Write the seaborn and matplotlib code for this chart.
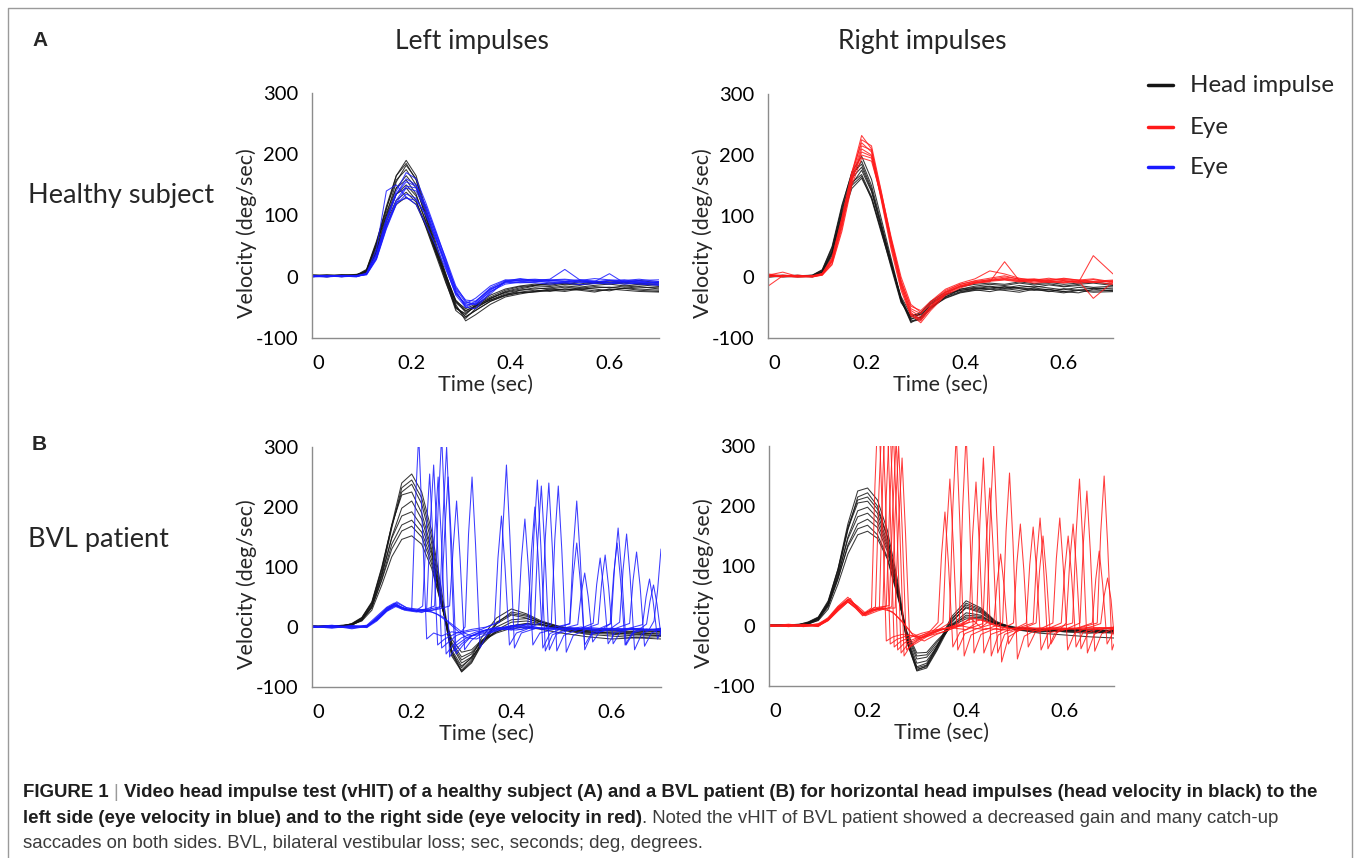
import numpy as np
import pandas as pd
import matplotlib
matplotlib.use("Agg")
import matplotlib.pyplot as plt
import seaborn as sns
from matplotlib.lines import Line2D
from matplotlib.transforms import ScaledTranslation
from matplotlib import font_manager

# ------------------------------------------------------------------ data
# healthy subject: common time grid (s)
T_A = [0.00, 0.03, 0.06, 0.09, 0.11, 0.13, 0.15, 0.17, 0.19, 0.21, 0.23, 0.25, 0.27, 0.29,
       0.31, 0.33, 0.36, 0.39, 0.42, 0.45, 0.48, 0.51, 0.54, 0.57, 0.60, 0.63, 0.66, 0.70]

# healthy, left impulses: head velocity (black)
TL_HEAD = [
    [2, 1, 3, 2, 10, 52, 110, 165, 190, 165, 110, 55, 5, -45, -72, -62, -45, -33, -28, -24, -22, -20, -21, -18, -17, -19, -16, -20],
    [1, 3, 2, 4, 8, 45, 100, 155, 182, 160, 105, 50, 0, -50, -65, -55, -40, -30, -22, -20, -18, -15, -17, -14, -12, -15, -13, -16],
    [3, 2, 0, 3, 12, 58, 112, 158, 175, 150, 95, 42, -5, -52, -60, -48, -35, -25, -20, -15, -16, -12, -14, -10, -12, -10, -13, -12],
    [0, 2, 3, 1, 6, 40, 95, 145, 165, 145, 98, 48, 2, -40, -58, -50, -38, -28, -25, -22, -24, -20, -22, -25, -20, -22, -24, -25],
    [2, 0, 2, 3, 9, 50, 105, 145, 158, 135, 88, 40, -8, -55, -68, -52, -36, -24, -18, -14, -12, -10, -12, -8, -10, -9, -11, -10],
    [1, 2, 1, 2, 7, 42, 92, 135, 150, 132, 90, 45, 3, -38, -55, -48, -38, -30, -26, -24, -20, -22, -18, -20, -23, -18, -20, -22],
    [3, 1, 3, 2, 11, 55, 100, 135, 145, 125, 80, 35, -10, -50, -62, -46, -30, -20, -15, -12, -14, -10, -13, -11, -9, -12, -10, -14],
    [0, 2, 2, 3, 8, 45, 90, 125, 138, 122, 85, 40, 0, -42, -56, -47, -35, -26, -22, -18, -20, -17, -19, -16, -18, -15, -17, -18],
    [2, 3, 1, 2, 6, 38, 85, 118, 130, 118, 82, 38, -2, -40, -52, -45, -33, -22, -16, -14, -10, -12, -8, -10, -7, -9, -6, -10],
    [1, 0, 2, 1, 10, 55, 115, 165, 185, 158, 100, 45, -3, -48, -66, -55, -40, -31, -26, -25, -22, -24, -20, -23, -21, -19, -22, -24],
]
# healthy, left impulses: eye velocity (blue)
TL_EYE = [
    [0, 2, 1, 0, 5, 35, 90, 135, 160, 150, 115, 70, 25, -20, -42, -45, -22, -8, -6, -5, -8, -10, -7, -9, -6, -8, -10, -9],
    [2, 0, 1, 2, 4, 30, 80, 120, 145, 140, 108, 65, 20, -25, -48, -40, -18, -6, -4, -8, -6, -5, -9, -7, -10, -8, -7, -12],
    [1, 1, 0, 1, 6, 45, 140, 150, 130, 118, 85, 50, 12, -28, -44, -35, -15, -5, -7, -6, -4, 12, -5, -8, -6, -5, -9, -8],
    [0, 1, 2, 1, 3, 28, 78, 118, 135, 128, 100, 62, 22, -18, -38, -40, -20, -10, -8, -7, -10, -8, -6, -10, -12, -9, -8, -10],
    [1, 2, 0, 2, 5, 38, 95, 140, 170, 160, 120, 75, 28, -22, -50, -52, -25, -9, -5, -4, -6, -8, -5, -7, -9, -6, -4, -8],
    [0, 0, 1, 1, 4, 32, 85, 122, 128, 125, 102, 60, 15, -30, -50, -42, -20, -8, -10, -9, -6, -7, -10, -8, 5, -10, -12, -14],
    [2, 1, 1, 0, 5, 36, 92, 135, 155, 148, 110, 66, 18, -26, -46, -44, -24, -12, -9, -10, -12, -10, -13, -11, -9, -12, -10, -13],
    [1, 0, 2, 1, 4, 30, 82, 125, 148, 145, 115, 72, 30, -15, -40, -46, -28, -7, -3, -6, -5, -4, -6, -3, -5, -7, -6, -5],
]
# healthy, right impulses: head velocity (black)
TR_HEAD = [
    [2, 3, 1, 2, 10, 45, 115, 172, 198, 160, 95, 30, -35, -72, -68, -50, -32, -24, -20, -18, -16, -19, -22, -20, -24, -21, -23, -22],
    [1, 2, 3, 1, 8, 40, 108, 165, 190, 150, 88, 25, -38, -75, -65, -45, -30, -20, -15, -12, -14, -10, -13, -11, -15, -12, -10, -14],
    [0, 1, 2, 3, 12, 50, 118, 170, 185, 145, 82, 20, -40, -70, -60, -42, -28, -22, -18, -20, -16, -18, -20, -24, -19, -22, -18, -20],
    [3, 0, 1, 2, 7, 38, 100, 152, 175, 140, 80, 22, -35, -68, -66, -50, -35, -26, -22, -20, -22, -25, -20, -23, -26, -22, -25, -24],
    [1, 2, 0, 1, 9, 42, 105, 155, 168, 132, 75, 15, -42, -65, -58, -40, -25, -16, -12, -10, -12, -8, -11, -9, -12, -10, -8, -12],
    [2, 1, 2, 0, 6, 35, 95, 145, 162, 130, 76, 20, -32, -62, -62, -48, -34, -25, -21, -24, -19, -22, -18, -21, -24, -26, -20, -23],
    [0, 2, 1, 3, 11, 48, 112, 162, 180, 142, 84, 24, -36, -73, -70, -52, -33, -20, -17, -15, -18, -14, -17, -13, -16, -14, -17, -15],
    [1, 1, 2, 2, 8, 40, 102, 150, 165, 128, 72, 18, -38, -66, -60, -44, -29, -22, -19, -16, -20, -17, -15, -18, -21, -17, -19, -18],
]
# healthy, right impulses: eye velocity (red)
TR_EYE = [
    [5, 2, 0, 1, 4, 25, 85, 165, 225, 215, 140, 60, -10, -58, -72, -50, -28, -15, -8, -4, 0, -3, -5, -2, -6, -8, -4, -10],
    [3, 8, 1, 2, 5, 30, 95, 170, 232, 210, 130, 55, -15, -62, -75, -55, -30, -18, -10, -6, -2, -5, -8, -6, -4, -7, -9, -6],
    [-15, 2, 1, 0, 3, 22, 80, 155, 210, 200, 135, 62, -5, -52, -60, -42, -22, -12, -6, -2, 2, -4, -3, -6, -2, -5, -3, -8],
    [2, 0, 3, 1, 5, 28, 90, 160, 200, 195, 128, 50, -18, -60, -68, -48, -25, -14, -9, -6, -4, -7, -5, -8, -9, -6, -8, -7],
    [0, 3, 2, 1, 3, 20, 75, 150, 195, 190, 132, 58, -8, -48, -55, -40, -20, -10, -3, 10, 5, -2, -6, -4, -3, -5, -7, -5],
    [1, 2, 1, 2, 6, 32, 98, 172, 220, 205, 125, 45, -22, -64, -70, -52, -28, -16, -10, -8, 25, -6, -10, -8, -6, -9, 35, 5],
    [4, 1, 2, 0, 4, 26, 88, 162, 215, 208, 138, 65, 0, -45, -58, -45, -24, -12, -7, -5, -3, -6, -4, -7, -10, -6, -35, -8],
    [2, 1, 0, 1, 5, 27, 86, 158, 205, 198, 130, 55, -12, -55, -65, -48, -26, -15, -10, -7, -5, -8, -6, -9, -7, -10, -8, -12],
]

# BVL patient: head-velocity time grid (s)
T_B = [0.00, 0.03, 0.06, 0.08, 0.10, 0.12, 0.14, 0.16, 0.18, 0.20, 0.22, 0.24, 0.26,
       0.28, 0.30, 0.32, 0.34, 0.37, 0.40, 0.43, 0.46, 0.50, 0.55, 0.60, 0.65, 0.70]

BL_HEAD = [
    [0, 1, 2, 5, 15, 40, 95, 170, 240, 255, 225, 160, 60, -40, -75, -60, -30, 5, 20, 15, 5, -5, -10, -8, -10, -12],
    [1, 0, 3, 4, 13, 36, 90, 165, 232, 245, 215, 150, 50, -45, -72, -55, -25, 8, 22, 18, 8, 0, -6, -5, -8, -6],
    [0, 2, 1, 6, 16, 42, 100, 170, 220, 225, 190, 130, 40, -42, -68, -50, -18, 15, 30, 22, 10, 0, -5, -3, -5, -8],
    [2, 1, 0, 3, 12, 34, 85, 150, 198, 210, 180, 125, 38, -38, -65, -52, -28, 0, 12, 14, 8, -2, -8, -10, -12, -10],
    [1, 1, 2, 5, 14, 38, 88, 148, 185, 192, 168, 120, 42, -30, -60, -50, -30, -5, 8, 10, 5, -3, -10, -12, -15, -14],
    [0, 2, 1, 4, 11, 32, 80, 138, 170, 178, 158, 112, 40, -28, -55, -45, -25, -8, 2, 5, 3, -5, -12, -15, -18, -16],
    [2, 0, 1, 3, 12, 33, 78, 130, 160, 168, 150, 105, 35, -25, -50, -42, -24, -10, -2, 0, -4, -10, -16, -20, -18, -20],
    [1, 1, 0, 4, 10, 28, 70, 117, 146, 152, 138, 98, 35, -20, -42, -38, -22, -8, 2, 6, 4, -2, -8, -10, -12, -14],
    [0, 2, 2, 5, 15, 40, 98, 168, 225, 238, 205, 140, 45, -48, -74, -58, -28, 6, 25, 20, 8, -2, -7, -6, -9, -8],
]
BR_HEAD = [
    [0, 1, 3, 6, 14, 40, 95, 170, 225, 230, 210, 160, 80, -20, -70, -65, -35, 15, 42, 30, 8, -5, -8, -6, -8, -7],
    [1, 2, 1, 5, 12, 36, 88, 160, 215, 222, 200, 150, 72, -25, -72, -68, -40, 10, 38, 28, 6, -6, -10, -8, -6, -9],
    [0, 0, 2, 7, 15, 42, 95, 162, 205, 208, 188, 140, 65, -28, -75, -70, -42, 5, 32, 24, 5, -4, -6, -5, -9, -8],
    [2, 1, 2, 4, 11, 34, 82, 148, 192, 198, 180, 135, 62, -22, -68, -62, -36, 8, 30, 22, 4, -3, -5, -10, -12, -10],
    [1, 2, 0, 5, 13, 38, 85, 145, 182, 188, 172, 130, 60, -18, -62, -58, -35, 2, 22, 18, 3, -6, -12, -15, -18, -20],
    [0, 1, 1, 3, 10, 32, 78, 135, 170, 178, 164, 125, 58, -15, -55, -52, -32, 0, 18, 16, 4, -4, -8, -9, -10, -12],
    [2, 0, 2, 5, 12, 35, 80, 132, 162, 168, 152, 115, 55, -12, -50, -48, -28, 2, 15, 14, 5, -2, -6, -7, -5, -8],
    [1, 1, 0, 4, 9, 28, 70, 120, 152, 158, 146, 112, 52, -10, -45, -44, -25, 0, 12, 12, 3, -4, -7, -8, -9, -10],
    [0, 2, 1, 6, 14, 39, 92, 165, 210, 215, 195, 148, 70, -26, -74, -66, -38, 12, 35, 26, 7, -5, -9, -7, -10, -8],
]

# BVL patient, left impulses: eye velocity with catch-up saccades, [time, value] vertices
BL_EYE = [
    [[0, 0], [0.04, 3], [0.08, -2], [0.11, 2], [0.13, 15], [0.15, 30], [0.165, 38], [0.18, 30], [0.20, 28], [0.207, 200], [0.214, 320], [0.221, 176], [0.230, -20], [0.244, -10], [0.26, -15], [0.28, -8], [0.297, -10], [0.307, 0], [0.314, 155], [0.321, 250], [0.328, 138], [0.337, -35], [0.351, -12], [0.37, -4], [0.40, 2], [0.438, 5], [0.445, 152], [0.452, 245], [0.459, 135], [0.468, -40], [0.482, -13], [0.51, -4], [0.54, 0], [0.57, -5], [0.600, 6], [0.607, 102], [0.614, 165], [0.621, 91], [0.630, -30], [0.644, -10], [0.67, -3], [0.70, -5]],
    [[0, 1], [0.04, -2], [0.08, 2], [0.11, 0], [0.13, 12], [0.15, 28], [0.17, 42], [0.19, 32], [0.21, 28], [0.222, 35], [0.229, 158], [0.236, 255], [0.243, 140], [0.252, -30], [0.266, -20], [0.29, -10], [0.32, -4], [0.35, 0], [0.376, 8], [0.383, 167], [0.39, 270], [0.397, 149], [0.406, -35], [0.42, -10], [0.45, -2], [0.466, -4], [0.480, 5], [0.487, 146], [0.494, 235], [0.501, 129], [0.510, -42], [0.524, -14], [0.55, -4], [0.58, -8], [0.600, -2], [0.617, 8], [0.624, 96], [0.631, 155], [0.638, 85], [0.647, -38], [0.661, -12], [0.68, -4], [0.70, -6]],
    [[0, -1], [0.04, 2], [0.08, 0], [0.11, 3], [0.13, 18], [0.15, 33], [0.165, 40], [0.185, 28], [0.21, 25], [0.230, 30], [0.237, 167], [0.244, 270], [0.251, 149], [0.260, -35], [0.274, -25], [0.29, -14], [0.31, -8], [0.34, -4], [0.366, 6], [0.373, 115], [0.38, 185], [0.387, 102], [0.396, -30], [0.41, -10], [0.43, -4], [0.461, 8], [0.468, 149], [0.475, 240], [0.482, 132], [0.491, -40], [0.505, -14], [0.53, -5], [0.564, 6], [0.571, 71], [0.578, 115], [0.585, 63], [0.594, -28], [0.608, -9], [0.63, -4], [0.66, -2], [0.675, -6], [0.686, 10], [0.693, 60], [0.70, 130]],
    [[0, 2], [0.04, 0], [0.08, 1], [0.11, -1], [0.13, 10], [0.15, 26], [0.17, 35], [0.19, 30], [0.22, 24], [0.239, 30], [0.246, 155], [0.253, 250], [0.260, 138], [0.269, -45], [0.283, -30], [0.30, -18], [0.33, -8], [0.37, -2], [0.40, -5], [0.433, 6], [0.440, 124], [0.447, 200], [0.454, 110], [0.463, -35], [0.477, -11], [0.50, -3], [0.533, 4], [0.540, 56], [0.547, 90], [0.554, 50], [0.563, -25], [0.577, -8], [0.61, -2], [0.637, 6], [0.644, 78], [0.651, 125], [0.658, 69], [0.667, -32], [0.681, -10], [0.70, -3]],
    [[0, 0], [0.04, 2], [0.08, -3], [0.11, 1], [0.13, 14], [0.15, 29], [0.165, 36], [0.18, 32], [0.20, 27], [0.23, 30], [0.246, 35], [0.253, 198], [0.26, 320], [0.267, 176], [0.276, -50], [0.29, -30], [0.31, -18], [0.34, -7], [0.37, 0], [0.40, -3], [0.413, 5], [0.420, 112], [0.427, 180], [0.434, 99], [0.443, -30], [0.457, -10], [0.49, -3], [0.517, 6], [0.524, 130], [0.531, 210], [0.538, 116], [0.547, -38], [0.561, -12], [0.59, -4], [0.62, -6], [0.663, 4], [0.670, 50], [0.677, 80], [0.684, 44], [0.693, -20], [0.70, -8]],
    [[0, 1], [0.04, -1], [0.08, 2], [0.11, 0], [0.13, 16], [0.15, 31], [0.168, 39], [0.185, 30], [0.21, 26], [0.24, 28], [0.256, 32], [0.263, 186], [0.27, 300], [0.277, 165], [0.286, -40], [0.30, -28], [0.32, -15], [0.35, -5], [0.39, 0], [0.42, -4], [0.446, 4], [0.453, 146], [0.46, 235], [0.467, 129], [0.476, -38], [0.49, -12], [0.52, -4], [0.55, -2], [0.574, 5], [0.581, 74], [0.588, 120], [0.595, 66], [0.604, -28], [0.618, -9], [0.64, -3], [0.67, -5], [0.70, -2]],
    [[0, 0], [0.04, 1], [0.08, -1], [0.11, 2], [0.13, 11], [0.15, 27], [0.17, 37], [0.19, 29], [0.22, 27], [0.259, 34], [0.266, 155], [0.273, 250], [0.280, 138], [0.289, -45], [0.303, -30], [0.32, -15], [0.35, -5], [0.40, 2], [0.44, -3], [0.48, -1], [0.517, 5], [0.524, 87], [0.531, 140], [0.538, 77], [0.547, -30], [0.561, -10], [0.585, -2], [0.598, 5], [0.605, 87], [0.612, 140], [0.619, 77], [0.628, -30], [0.642, -10], [0.66, -2], [0.671, 5], [0.678, 43], [0.685, 70], [0.692, 38], [0.70, -15]],
    [[0, 1], [0.04, 0], [0.08, 2], [0.11, 1], [0.13, 13], [0.15, 28], [0.165, 37], [0.18, 33], [0.20, 28], [0.23, 26], [0.255, 30], [0.276, 35], [0.283, 130], [0.29, 210], [0.297, 115], [0.306, -38], [0.32, -22], [0.34, -10], [0.37, -3], [0.41, -5], [0.44, -1], [0.47, -4], [0.50, -2], [0.53, -5], [0.56, -1], [0.60, -4], [0.64, -2], [0.68, -5], [0.70, -3]],
    [[0, 0], [0.04, 2], [0.08, 0], [0.11, 2], [0.13, 12], [0.15, 27], [0.165, 35], [0.18, 30], [0.20, 28], [0.22, 27], [0.24, 25], [0.26, 18], [0.28, 5], [0.30, -8], [0.32, -15], [0.34, -12], [0.37, -5], [0.40, 0], [0.43, 3], [0.46, -2], [0.50, -4], [0.55, -2], [0.60, -5], [0.65, -3], [0.70, -6]],
    [[0, -1], [0.04, 1], [0.08, 1], [0.11, 0], [0.13, 14], [0.15, 32], [0.17, 40], [0.19, 32], [0.21, 30], [0.23, 28], [0.25, 22], [0.27, 10], [0.29, -5], [0.31, -18], [0.33, -20], [0.35, -12], [0.38, -4], [0.41, 2], [0.44, 0], [0.48, -3], [0.52, -1], [0.56, -4], [0.60, -2], [0.65, -5], [0.70, -4]],
]

# BVL patient, right impulses: eye velocity with catch-up saccades, [time, value] vertices
BR_EYE = [
    [[0, 0], [0.04, 3], [0.07, 0], [0.10, 4], [0.12, 12], [0.14, 30], [0.16, 45], [0.175, 35], [0.19, 20], [0.208, 30], [0.215, 235], [0.222, 380], [0.229, 209], [0.238, -25], [0.252, -18], [0.27, -14], [0.30, -18], [0.33, -10], [0.353, 6], [0.360, 152], [0.367, 245], [0.374, 135], [0.383, -40], [0.397, -13], [0.42, -5], [0.456, 4], [0.463, 74], [0.47, 120], [0.477, 66], [0.486, -30], [0.50, -9], [0.53, -3], [0.57, -6], [0.616, 5], [0.623, 152], [0.63, 245], [0.637, 135], [0.646, -45], [0.66, -14], [0.68, -4], [0.70, -6]],
    [[0, 2], [0.04, 0], [0.07, 3], [0.10, 1], [0.12, 10], [0.14, 28], [0.158, 42], [0.175, 30], [0.19, 18], [0.216, 32], [0.223, 223], [0.23, 360], [0.237, 198], [0.246, -30], [0.26, -22], [0.285, -15], [0.31, -20], [0.34, -8], [0.366, 5], [0.373, 198], [0.38, 320], [0.387, 176], [0.396, -50], [0.41, -15], [0.44, -4], [0.47, -6], [0.496, 5], [0.503, 105], [0.51, 170], [0.517, 94], [0.526, -35], [0.54, -11], [0.57, -3], [0.60, -6], [0.631, 5], [0.638, 140], [0.645, 225], [0.652, 124], [0.661, -42], [0.675, -13], [0.70, -4]],
    [[0, -1], [0.04, 2], [0.07, 1], [0.10, 3], [0.12, 14], [0.14, 33], [0.16, 48], [0.178, 32], [0.192, 20], [0.21, 27], [0.224, 30], [0.231, 248], [0.238, 400], [0.245, 220], [0.254, -35], [0.268, -25], [0.29, -18], [0.31, -12], [0.34, -6], [0.37, -2], [0.386, 5], [0.393, 198], [0.40, 320], [0.407, 176], [0.416, -45], [0.43, -14], [0.46, -4], [0.49, -8], [0.522, 5], [0.529, 102], [0.536, 165], [0.543, 91], [0.552, -40], [0.566, -12], [0.60, -5], [0.63, -3], [0.666, 5], [0.673, 155], [0.68, 250], [0.687, 138], [0.696, -40], [0.70, -30]],
    [[0, 1], [0.04, -1], [0.07, 2], [0.10, 0], [0.12, 9], [0.14, 26], [0.16, 40], [0.178, 30], [0.195, 18], [0.215, 26], [0.231, 30], [0.238, 217], [0.245, 350], [0.252, 193], [0.261, -40], [0.275, -28], [0.30, -20], [0.325, -10], [0.343, 6], [0.350, 118], [0.357, 190], [0.364, 105], [0.373, -35], [0.387, -11], [0.41, -3], [0.44, -6], [0.474, 5], [0.481, 158], [0.488, 255], [0.495, 140], [0.504, -55], [0.518, -17], [0.545, -5], [0.57, -3], [0.593, 5], [0.600, 93], [0.607, 150], [0.614, 83], [0.623, -35], [0.637, -11], [0.66, -4], [0.70, -2]],
    [[0, 0], [0.04, 1], [0.07, -1], [0.10, 2], [0.12, 11], [0.14, 31], [0.162, 44], [0.18, 33], [0.195, 22], [0.215, 28], [0.238, 33], [0.245, 205], [0.252, 330], [0.259, 182], [0.268, -45], [0.282, -30], [0.30, -22], [0.33, -12], [0.36, -4], [0.39, 0], [0.406, 6], [0.413, 149], [0.42, 240], [0.427, 132], [0.436, -45], [0.45, -14], [0.48, -5], [0.51, -2], [0.536, 5], [0.543, 112], [0.55, 180], [0.557, 99], [0.566, -38], [0.58, -12], [0.61, -3], [0.64, -5], [0.673, 4], [0.680, 50], [0.687, 80], [0.694, 44], [0.70, -15]],
    [[0, 2], [0.04, 0], [0.07, 1], [0.10, -1], [0.12, 12], [0.14, 29], [0.16, 43], [0.176, 34], [0.192, 19], [0.212, 30], [0.244, 34], [0.251, 192], [0.258, 310], [0.265, 171], [0.274, -50], [0.288, -32], [0.31, -20], [0.34, -8], [0.37, -3], [0.40, -6], [0.421, 5], [0.428, 174], [0.435, 280], [0.442, 154], [0.451, -50], [0.465, -15], [0.49, -5], [0.52, -2], [0.55, -5], [0.576, 5], [0.583, 112], [0.59, 180], [0.597, 99], [0.606, -40], [0.62, -12], [0.645, -3], [0.67, -6], [0.70, -2]],
    [[0, 1], [0.04, 2], [0.07, 0], [0.10, 1], [0.12, 13], [0.14, 32], [0.165, 46], [0.18, 28], [0.195, 17], [0.22, 25], [0.249, 32], [0.256, 186], [0.263, 300], [0.270, 165], [0.279, -40], [0.293, -28], [0.31, -18], [0.34, -7], [0.38, 0], [0.41, 12], [0.43, -2], [0.442, 5], [0.449, 186], [0.456, 300], [0.463, 165], [0.472, -60], [0.486, -18], [0.51, -6], [0.542, 5], [0.549, 93], [0.556, 150], [0.563, 83], [0.572, -30], [0.586, -9], [0.603, 5], [0.610, 105], [0.617, 170], [0.624, 94], [0.633, -38], [0.647, -12], [0.67, -3], [0.70, -5]],
    [[0, -1], [0.04, 1], [0.07, 2], [0.10, 0], [0.12, 10], [0.14, 27], [0.16, 41], [0.178, 31], [0.193, 21], [0.22, 29], [0.256, 30], [0.263, 174], [0.27, 280], [0.277, 154], [0.286, -35], [0.30, -28], [0.32, -18], [0.35, -6], [0.38, 2], [0.41, -3], [0.434, 4], [0.441, 143], [0.448, 230], [0.455, 127], [0.464, -45], [0.478, -14], [0.51, -4], [0.54, -7], [0.58, -2], [0.62, -5], [0.656, 5], [0.663, 78], [0.67, 125], [0.677, 69], [0.686, -30], [0.70, -8]],
    [[0, 0], [0.04, 2], [0.07, -1], [0.10, 2], [0.12, 11], [0.14, 28], [0.16, 44], [0.178, 33], [0.192, 19], [0.21, 27], [0.23, 28], [0.25, 24], [0.27, 8], [0.29, -12], [0.31, -20], [0.33, -15], [0.36, -8], [0.39, 2], [0.41, 14], [0.44, 8], [0.47, -2], [0.51, -6], [0.55, -3], [0.60, -6], [0.65, -2], [0.70, -4]],
    [[0, 1], [0.04, -1], [0.07, 1], [0.10, 0], [0.12, 9], [0.14, 25], [0.16, 40], [0.176, 30], [0.19, 17], [0.21, 25], [0.235, 30], [0.255, 20], [0.275, 2], [0.295, -18], [0.315, -25], [0.34, -14], [0.37, -5], [0.40, 5], [0.43, 10], [0.46, 0], [0.50, -5], [0.55, -8], [0.60, -4], [0.65, -6], [0.70, -3]],
]

COL_TITLES = ["Left impulses", "Right impulses"]
ROW_TITLES = ["Healthy subject", "BVL patient"]
ROW_LETTERS = ["A", "B"]
LEGEND_LABELS = ["Head impulse", "Eye", "Eye"]
X_TICKS = [0, 0.2, 0.4, 0.6]
X_TICK_LABELS = ["0", "0.2", "0.4", "0.6"]
X_MINOR = [0.1, 0.3, 0.5, 0.7]
Y_TICKS = [-100, 0, 100, 200, 300]
Y_TICK_LABELS = ["-100", "0", "100", "200", "300"]
CAPTION_L1 = ["FIGURE 1", "|", "Video head impulse test (vHIT) of a healthy subject (A) and a BVL patient (B) "
              "for horizontal head impulses (head velocity in black) to the"]
CAPTION_L2 = ["left side (eye velocity in blue) and to the right side (eye velocity in red)",
              ". Noted the vHIT of BVL patient showed a decreased gain and many catch-up"]
CAPTION_L3 = "saccades on both sides. BVL, bilateral vestibular loss; sec, seconds; deg, degrees."

# ------------------------------------------------------------------ tidy table
rows = []
def add_grid(panel, kind, tgrid, traces):
    for i, tr in enumerate(traces):
        for t, v in zip(tgrid, tr):
            rows.append((panel, f"{kind}{i}", kind, t, v))

def add_pts(panel, kind, traces):
    for i, tr in enumerate(traces):
        for t, v in tr:
            rows.append((panel, f"{kind}{i}", kind, t, v))

add_grid("TL", "head", T_A, TL_HEAD)
add_grid("TL", "eye", T_A, TL_EYE)
add_grid("TR", "head", T_A, TR_HEAD)
add_grid("TR", "eye", T_A, TR_EYE)
add_grid("BL", "head", T_B, BL_HEAD)
add_pts("BL", "eye", BL_EYE)
add_grid("BR", "head", T_B, BR_HEAD)
add_pts("BR", "eye", BR_EYE)
df = pd.DataFrame(rows, columns=["panel", "trace", "kind", "t", "v"])

# ------------------------------------------------------------------ style
sns.set_style("white")
plt.rcParams["font.family"] = ["Lato", "DejaVu Sans"]

HEAD_C = "#151515"
BLUE_C = "#1a1aff"
RED_C = "#ff1a1a"
SPINE_C = "#8c8c8c"
W, H = 1357, 858

fig = plt.figure(figsize=(W / 100, H / 100), dpi=100)

def px_rect(l, t, r, b):
    return [l / W, 1 - b / H, (r - l) / W, (b - t) / H]

AX_PX = {
    "TL": (312, 93, 659, 338),
    "TR": (768, 94, 1113, 338),
    "BL": (312, 447, 661, 687),
    "BR": (769, 446, 1114, 686),
}
EYE_C = {"TL": BLUE_C, "BL": BLUE_C, "TR": RED_C, "BR": RED_C}

for key, rect in AX_PX.items():
    ax = fig.add_axes(px_rect(*rect))
    d = df[df.panel == key]
    sns.lineplot(data=d, x="t", y="v", hue="kind", hue_order=["head", "eye"],
                 palette={"head": HEAD_C, "eye": EYE_C[key]}, units="trace",
                 estimator=None, sort=False, legend=False, lw=0.75, alpha=0.85, ax=ax)
    ax.set_xlim(0, 0.7)
    ax.set_ylim(-100, 300)
    ax.set_xticks(X_TICKS)
    ax.set_xticklabels(X_TICK_LABELS)
    ax.set_xticks(X_MINOR, minor=True)
    ax.set_yticks(Y_TICKS)
    ax.set_yticklabels(Y_TICK_LABELS)
    ax.tick_params(axis="x", which="both", direction="in", length=5, width=1,
                   color=SPINE_C, labelsize=14.5, pad=12, labelcolor="black")
    ax.tick_params(axis="y", which="both", direction="in", length=3.5, width=1,
                   color=SPINE_C, labelsize=14.5, pad=10, labelcolor="black")
    sns.despine(ax=ax)
    for s in ("left", "bottom"):
        ax.spines[s].set_color(SPINE_C)
        ax.spines[s].set_linewidth(1)
    ax.set_xlabel("Time (sec)", fontsize=15.5, labelpad=2)
    ax.set_ylabel("Velocity (deg/sec)", fontsize=15.5)
    ax.yaxis.set_label_coords(-0.158, 0.43)
    ax.patch.set_alpha(0)
    first = ax.get_xticklabels()[0]
    first.set_transform(first.get_transform() + ScaledTranslation(0.06, 0, fig.dpi_scale_trans))

# column and row titles
for txt, xc in zip(COL_TITLES, (472, 922)):
    fig.text(xc / W, 1 - 42 / H, txt, ha="center", va="center", fontsize=19)
for txt, yc in zip(ROW_TITLES, (195, 539)):
    fig.text(28 / W, 1 - yc / H, txt, ha="left", va="center", fontsize=19.5)
for txt, yc in zip(ROW_LETTERS, (41, 444)):
    fig.text(32 / W, 1 - yc / H, txt, ha="left", va="center", fontsize=15,
             fontweight="bold", family=["Liberation Sans", "DejaVu Sans"])

# legend
for lab, col, yc in zip(LEGEND_LABELS, (HEAD_C, RED_C, BLUE_C), (85, 127, 167)):
    fig.add_artist(Line2D([1148 / W, 1173 / W], [1 - yc / H, 1 - yc / H], color=col, lw=2.5,
                          transform=fig.transFigure))
    fig.text(1190 / W, 1 - yc / H, lab, ha="left", va="center", fontsize=17.3)

# frame
FRAME_C = "#9a9a9a"
fig.add_artist(Line2D([8 / W, 8 / W, 1352 / W, 1352 / W], [0, 1 - 8 / H, 1 - 8 / H, 0],
                      color=FRAME_C, lw=1.0, transform=fig.transFigure))

# caption
def has_font(name):
    try:
        font_manager.findfont(name, fallback_to_default=False)
        return True
    except Exception:
        return False

CAP_FAM = "Liberation Sans Narrow" if has_font("Liberation Sans Narrow") else "Liberation Sans"
fig.canvas.draw()
rend = fig.canvas.get_renderer()

def measure(text, weight, fs):
    t = fig.text(0, 0, text, fontsize=fs, fontweight=weight, family=CAP_FAM)
    w = t.get_window_extent(renderer=rend).width
    t.remove()
    return w

def space_w(weight, fs):
    return measure("a a", weight, fs) - measure("aa", weight, fs)

base_fs = 12.0
l1w = (measure(CAPTION_L1[0], "bold", base_fs) + measure(CAPTION_L1[1], "normal", base_fs)
       + measure(CAPTION_L1[2], "bold", base_fs) + 2 * space_w("bold", base_fs))
CAP_FS = base_fs * 1295.0 / l1w

BOLD_C = "#1e1e1e"
REG_C = "#3c3c3c"

def draw_runs(y_base, runs, x0=23):
    x = x0
    for text, weight, color, gap in runs:
        t = fig.text(x / W, 1 - y_base / H, text, fontsize=CAP_FS, fontweight=weight,
                     color=color, family=CAP_FAM, ha="left", va="baseline")
        bb = t.get_window_extent(renderer=rend)
        x = bb.x1 + gap

sp = space_w("bold", CAP_FS)
draw_runs(797, [(CAPTION_L1[0], "bold", BOLD_C, sp), (CAPTION_L1[1], "normal", "#9a9a9a", sp),
                (CAPTION_L1[2], "bold", BOLD_C, 0)])
draw_runs(823, [(CAPTION_L2[0], "bold", BOLD_C, 0), (CAPTION_L2[1], "normal", REG_C, 0)])
draw_runs(848, [(CAPTION_L3, "normal", REG_C, 0)])

fig.savefig("out.png", dpi=100)
